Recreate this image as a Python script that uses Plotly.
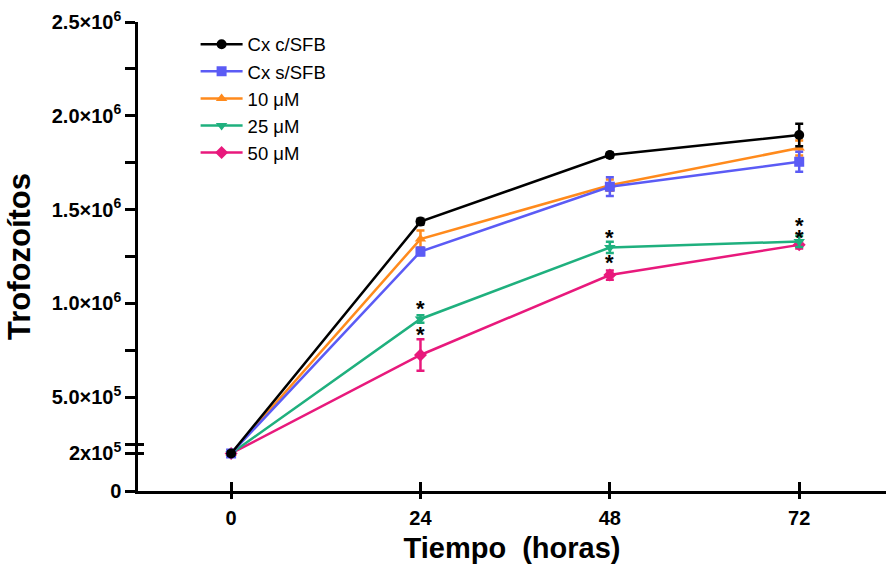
import plotly.graph_objects as go

# ---- data ----
hours = [0, 24, 48, 72]
series_names = ["Cx c/SFB", "Cx s/SFB", "10 μM", "25 μM", "50 μM"]
cx_c_sfb = [2.0e5, 1.436e6, 1.791e6, 1.898e6]
cx_c_sfb_err = [0.01e6, 0.015e6, 0.012e6, 0.06e6]
cx_s_sfb = [2.0e5, 1.276e6, 1.622e6, 1.755e6]
cx_s_sfb_err = [0.01e6, 0.02e6, 0.05e6, 0.053e6]
um10 = [2.0e5, 1.343e6, 1.630e6, 1.828e6]
um10_err = [0.01e6, 0.045e6, 0.03e6, 0.04e6]
um25 = [2.0e5, 0.917e6, 1.298e6, 1.330e6]
um25_err = [0.01e6, 0.02e6, 0.03e6, 0.03e6]
um50 = [2.0e5, 0.725e6, 1.151e6, 1.312e6]
um50_err = [0.01e6, 0.084e6, 0.025e6, 0.02e6]

y_tickvals = [0, 2e5, 2.5e5, 5e5, 7.5e5, 1e6, 1.25e6, 1.5e6, 1.75e6, 2e6, 2.25e6, 2.5e6]
y_ticktext = ["0", "2x10<sup>5</sup>", "", "5.0×10<sup>5</sup>", "", "1.0×10<sup>6</sup>", "",
              "1.5×10<sup>6</sup>", "", "2.0×10<sup>6</sup>", "", "2.5×10<sup>6</sup>"]
x_tickvals = [0, 24, 48, 72]
x_ticktext = ["0", "24", "48", "72"]

# significance marks: (hour index, series, pixel offset above point)
stars = [(1, "25 μM", 13), (1, "50 μM", 23), (2, "25 μM", 13), (2, "50 μM", 16),
         (3, "25 μM", 19), (3, "50 μM", 10)]

colors = {"Cx c/SFB": "#000000", "Cx s/SFB": "#5b5bf5", "10 μM": "#ff8a1c",
          "25 μM": "#1fb07e", "50 μM": "#e8197c"}
symbols = {"Cx c/SFB": "circle", "Cx s/SFB": "square", "10 μM": "triangle-up",
           "25 μM": "triangle-down", "50 μM": "diamond"}
values = {"Cx c/SFB": (cx_c_sfb, cx_c_sfb_err), "Cx s/SFB": (cx_s_sfb, cx_s_sfb_err),
          "10 μM": (um10, um10_err), "25 μM": (um25, um25_err), "50 μM": (um50, um50_err)}

fig = go.Figure()
for rank, name in reversed(list(enumerate(series_names))):
    y, e = values[name]
    fig.add_trace(go.Scatter(
        x=hours, y=y, name=name, mode="lines+markers",
        line=dict(color=colors[name], width=2.5),
        marker=dict(symbol=symbols[name], size=10, color=colors[name]),
        error_y=dict(type="data", array=e, color=colors[name], thickness=2.5, width=4),
        legendrank=rank + 1,
    ))

for idx, name, off in stars:
    fig.add_annotation(x=hours[idx], y=values[name][0][idx], text="<b>*</b>",
                       showarrow=False, yshift=off - 3,
                       font=dict(family="Liberation Sans, Arial", size=22, color="black"))

font_b = "Liberation Sans, Arial, sans-serif"
fig.update_layout(
    width=886, height=566,
    margin=dict(l=138, r=0, t=22, b=75, autoexpand=False),
    paper_bgcolor="white", plot_bgcolor="white",
    showlegend=True,
    legend=dict(x=0.077, y=0.992, xanchor="left", yanchor="top",
                font=dict(family=font_b, size=18.5, color="black"),
                tracegroupgap=0, itemwidth=42, bgcolor="rgba(0,0,0,0)"),
    xaxis=dict(range=[-11.8, 83.0], tickvals=x_tickvals, ticktext=x_ticktext,
               automargin=False,
               showgrid=False, zeroline=False, showline=True, linecolor="black", linewidth=2.5,
               ticks="outside", ticklen=5, tickwidth=2.5, tickcolor="black",
               ticklabelstandoff=2,
               tickfont=dict(family=font_b, size=20, color="black", weight="bold"),
               title=dict(text="Tiempo  (horas)", standoff=10,
                          font=dict(family=font_b, size=29, color="black", weight="bold"))),
    xaxis2=dict(range=[-11.8, 83.0], overlaying="x", anchor="y", side="bottom",
                automargin=False,
                tickvals=x_tickvals, ticktext=["", "", "", ""], showgrid=False, zeroline=False,
                showline=False, ticks="inside", ticklen=9, tickwidth=2.5, tickcolor="black"),
    yaxis=dict(range=[0, 2.5e6], tickvals=y_tickvals, ticktext=y_ticktext,
               automargin=False,
               showgrid=False, zeroline=False, showline=True, linecolor="black", linewidth=2.5,
               ticks="outside", ticklen=10, tickwidth=2.5, tickcolor="black",
               tickfont=dict(family=font_b, size=20, color="black", weight="bold"),
               title=dict(text="Trofozoítos", standoff=12,
                          font=dict(family=font_b, size=31, color="black", weight="bold"))),
    yaxis2=dict(range=[0, 2.5e6], overlaying="y", anchor="x", side="left",
                automargin=False,
                tickvals=[2e5, 2.5e5], ticktext=["", ""], showgrid=False, zeroline=False,
                showline=False, ticks="inside", ticklen=6, tickwidth=2.5, tickcolor="black"),
)
# dummy trace to activate overlay axes
fig.add_trace(go.Scatter(x=[None], y=[None], xaxis="x2", yaxis="y2", showlegend=False,
                         hoverinfo="skip"))

fig.write_html("out.html", config={"displayModeBar": False},
               post_script="document.body.style.margin='0';document.body.style.overflow='hidden';")
